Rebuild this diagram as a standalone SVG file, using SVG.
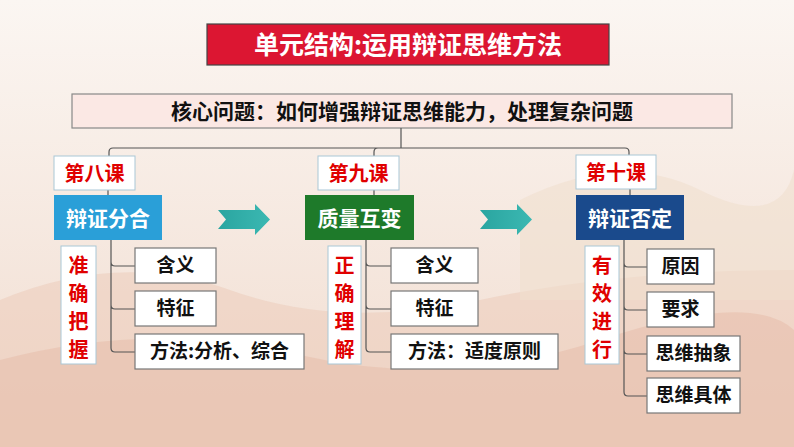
<svg xmlns="http://www.w3.org/2000/svg" width="794" height="447" viewBox="0 0 794 447">
<style>
text{font-family:"Noto Sans CJK SC","Liberation Sans",sans-serif;font-weight:bold}
.lbl{fill:#fff;stroke:#a9c7d6;stroke-width:1}
.red{fill:#e00000;font-size:20px}
.item{fill:#fff;stroke:#777;stroke-width:1.2}
.it{fill:#111;font-size:19px}
.ln{fill:none;stroke:#555;stroke-width:1.2}
</style>
<defs>
<linearGradient id="bg" x1="0" y1="0" x2="0" y2="1"><stop offset="0" stop-color="#fbf6f2"/><stop offset="1" stop-color="#f1dccf"/></linearGradient>
<linearGradient id="ar" x1="0" y1="0" x2="1" y2="0"><stop offset="0" stop-color="#2aa5a0"/><stop offset="1" stop-color="#3bb8b2"/></linearGradient>
</defs>
<rect width="794" height="447" fill="url(#bg)"/>
<path d="M0 300 Q120 250 230 290 T480 300 T794 270 V447 H0Z" fill="#ecc9b8" opacity="0.5"/>
<path d="M0 360 Q150 320 300 355 T600 340 T794 330 V447 H0Z" fill="#e5b8a5" opacity="0.45"/>
<path d="M520 200 Q620 150 700 190 T794 170 V300 H520Z" fill="#f0dfcf" opacity="0.6"/>
<g id="title"><rect x="207" y="24" width="402" height="41" fill="#dc1632" stroke="#444" stroke-width="1.2"/><text x="408" y="54" font-size="25" fill="#fff" text-anchor="middle">单元结构:运用辩证思维方法</text></g>
<g id="core"><rect x="72" y="94" width="660" height="34" fill="#fbe8e4" stroke="#888" stroke-width="1.2"/><text x="402" y="119" font-size="21" fill="#111" text-anchor="middle">核心问题：如何增强辩证思维能力，处理复杂问题</text></g>
<g id="connectors">
<path class="ln" d="M401 128V148M109 156V152Q109 148 113 148H625Q629 148 629 152V155M374 156V152Q374 148 378 148"/>
<path class="ln" d="M108 190V195M374 190V195M630 189V195"/>
<path class="ln" d="M111 240V244M111 244V262Q111 266 115 266H135M111 262V305Q111 309 115 309H135M111 305V348Q111 352 115 352H135"/>
<path class="ln" d="M366 240V262Q366 266 370 266H391M366 262V305Q366 309 370 309H391M366 305V348Q366 352 370 352H391"/>
<path class="ln" d="M624 240V263Q624 267 628 267H647M624 263V306Q624 310 628 310H647M624 306V350Q624 354 628 354H647M624 350V392Q624 396 628 396H647"/>
<path d="M218 210H255V204L270 219.5L255 235V229H218L226 219.5Z" fill="url(#ar)"/>
<path d="M480 210H517V204L532 219.5L517 235V229H480L488 219.5Z" fill="url(#ar)"/>
</g>
<g id="l8"><rect class="lbl" x="54" y="156" width="81" height="34"/><text class="red" x="94.5" y="181" text-anchor="middle">第八课</text>
<rect x="54" y="195" width="108" height="45" fill="#2a9fd8"/><text x="108" y="226" font-size="21" fill="#fff" text-anchor="middle">辩证分合</text>
<rect class="lbl" x="61" y="246" width="35" height="118"/><text class="red" x="78.5" font-size="22" text-anchor="middle"><tspan x="78.5" y="273">准</tspan><tspan x="78.5" y="301">确</tspan><tspan x="78.5" y="329">把</tspan><tspan x="78.5" y="357">握</tspan></text>
<rect class="item" x="135" y="248" width="81" height="35"/><text class="it" x="175.5" y="272" text-anchor="middle">含义</text>
<rect class="item" x="135" y="291" width="81" height="35"/><text class="it" x="175.5" y="315" text-anchor="middle">特征</text>
<rect class="item" x="135" y="334" width="169" height="35"/><text class="it" x="219.5" y="358" text-anchor="middle">方法:分析、综合</text></g>
<g id="l9"><rect class="lbl" x="318" y="156" width="81" height="34"/><text class="red" x="358.5" y="181" text-anchor="middle">第九课</text>
<rect x="305" y="195" width="109" height="45" fill="#1e7a2a"/><text x="359.5" y="226" font-size="21" fill="#fff" text-anchor="middle">质量互变</text>
<rect class="lbl" x="328" y="246" width="33" height="118"/><text class="red" x="344.5" font-size="22" text-anchor="middle"><tspan x="344.5" y="273">正</tspan><tspan x="344.5" y="301">确</tspan><tspan x="344.5" y="329">理</tspan><tspan x="344.5" y="357">解</tspan></text>
<rect class="item" x="391" y="248" width="87" height="35"/><text class="it" x="434.5" y="272" text-anchor="middle">含义</text>
<rect class="item" x="391" y="291" width="87" height="35"/><text class="it" x="434.5" y="315" text-anchor="middle">特征</text>
<rect class="item" x="391" y="334" width="167" height="35"/><text class="it" x="474.5" y="358" text-anchor="middle">方法：适度原则</text></g>
<g id="l10"><rect class="lbl" x="576" y="155" width="80" height="34"/><text class="red" x="616" y="180" text-anchor="middle">第十课</text>
<rect x="576" y="195" width="108" height="45" fill="#1a4a8c"/><text x="630" y="226" font-size="21" fill="#fff" text-anchor="middle">辩证否定</text>
<rect class="lbl" x="585" y="246" width="34" height="118"/><text class="red" x="602" font-size="22" text-anchor="middle"><tspan x="602" y="273">有</tspan><tspan x="602" y="301">效</tspan><tspan x="602" y="329">进</tspan><tspan x="602" y="357">行</tspan></text>
<rect class="item" x="647" y="249" width="67" height="35"/><text class="it" x="680.5" y="273" text-anchor="middle">原因</text>
<rect class="item" x="647" y="292" width="67" height="35"/><text class="it" x="680.5" y="316" text-anchor="middle">要求</text>
<rect class="item" x="647" y="336" width="93" height="35"/><text class="it" x="693.5" y="360" text-anchor="middle">思维抽象</text>
<rect class="item" x="647" y="378" width="93" height="35"/><text class="it" x="693.5" y="402" text-anchor="middle">思维具体</text></g>
</svg>
